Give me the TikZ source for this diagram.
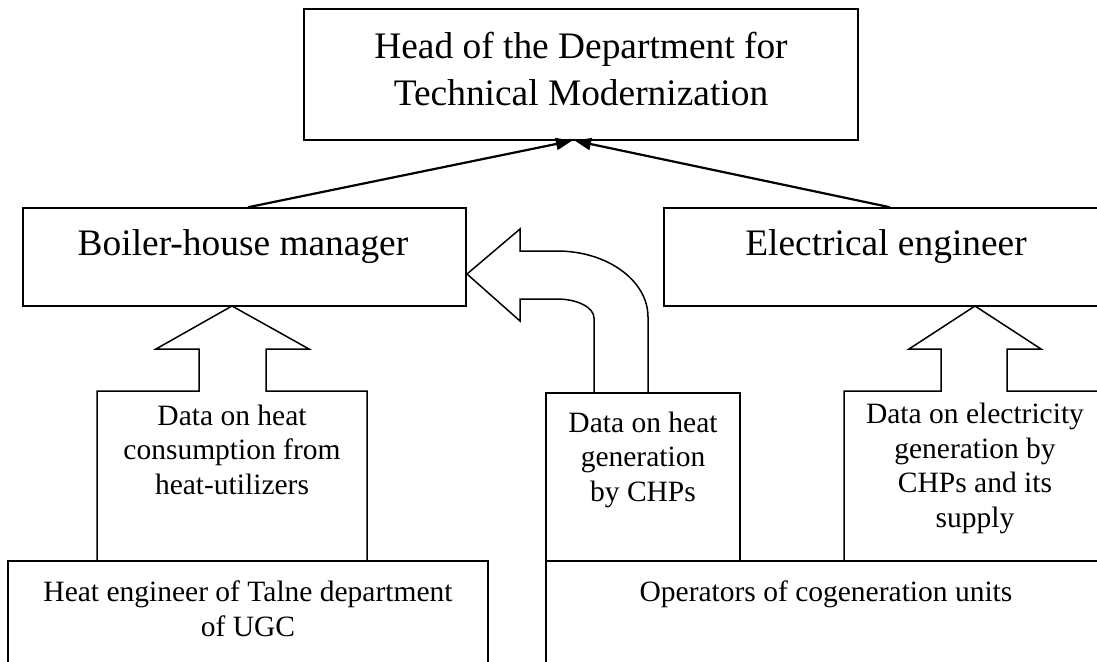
\documentclass[tikz,border=0pt]{standalone}
\usepackage{fontspec}
\setmainfont{Liberation Serif}
\usetikzlibrary{arrows.meta}
\begin{document}
\begin{tikzpicture}[x=1pt,y=-1pt,
  box/.style={draw=black, line width=1.5pt, rectangle, inner sep=0pt},
  callout/.style={draw=black, line width=1.5pt, line join=miter},
  conn/.style={draw=black, line width=2.2pt, -{Triangle[length=16pt,width=12pt]}},
  big/.style={font=\fontsize{37.4}{47}\selectfont, align=center, inner sep=0pt},
  mid/.style={font=\fontsize{29.5}{34.5}\selectfont, align=center, inner sep=0pt}]
\useasboundingbox (0,0) rectangle (1097,661);
\clip (0,0) rectangle (1097,661);
% boxes
\node[box, minimum width=554pt, minimum height=131pt] (head) at (581,74.5) {};
\node[big] (headtxt) at (581,69.5) {Head of the Department for\\Technical Modernization};
\node[box, minimum width=443pt, minimum height=98pt] (boiler) at (244.5,257) {};
\node[big] (boilertxt) at (243,246.7) {Boiler-house manager};
\node[box, minimum width=444pt, minimum height=98pt] (elec) at (886,257) {};
\node[big] (electxt) at (886,246.7) {Electrical engineer};
\node[box, minimum width=480pt, minimum height=120pt] (heateng) at (248,621) {};
\node[mid] (heatengtxt) at (248,608.5) {Heat engineer of Talne department\\of UGC};
\node[box, minimum width=562pt, minimum height=120pt] (oper) at (827,621) {};
\node[mid] (opertxt) at (826,594) {Operators of cogeneration units};
\node[box, minimum width=194pt, minimum height=168pt] (midbox) at (643,477) {};
\node[mid] (midtxt) at (643,459.5) {Data on heat\\generation\\by CHPs};
% up arrow callouts
\draw[callout] (97,561) -- (97,391) -- (199,391) -- (199,349) -- (156,349) -- (232,306)
  -- (309,349) -- (266,349) -- (266,391) -- (367,391) -- (367,561) -- cycle;
\node[mid] (lefttxt) at (232,449.5) {Data on heat\\consumption from\\heat-utilizers};
\draw[callout] (844,561) -- (844,391) -- (941,391) -- (941,349) -- (909,349) -- (975,306)
  -- (1041,349) -- (1007,349) -- (1007,391) -- (1110,391) -- (1110,561) -- cycle;
\node[mid] (righttxt) at (975,468.5) {Data on electricity\\generation by\\CHPs and its\\supply};
% curved block arrow
\draw[callout] (594,393) -- (594,318) arc[start angle=0, end angle=90, x radius=37pt, y radius=19pt]
  -- (520,299) -- (520,321) -- (467,274) -- (520,229) -- (520,251) -- (557,251)
  arc[start angle=90, end angle=0, x radius=91pt, y radius=66pt] -- (648,393);
% connectors
\draw[conn] ([xshift=3.5pt]boiler.north) -- ([xshift=-9pt]head.south);
\draw[conn] ([xshift=4pt]elec.north) -- ([xshift=-6pt]head.south);
\end{tikzpicture}
\end{document}
